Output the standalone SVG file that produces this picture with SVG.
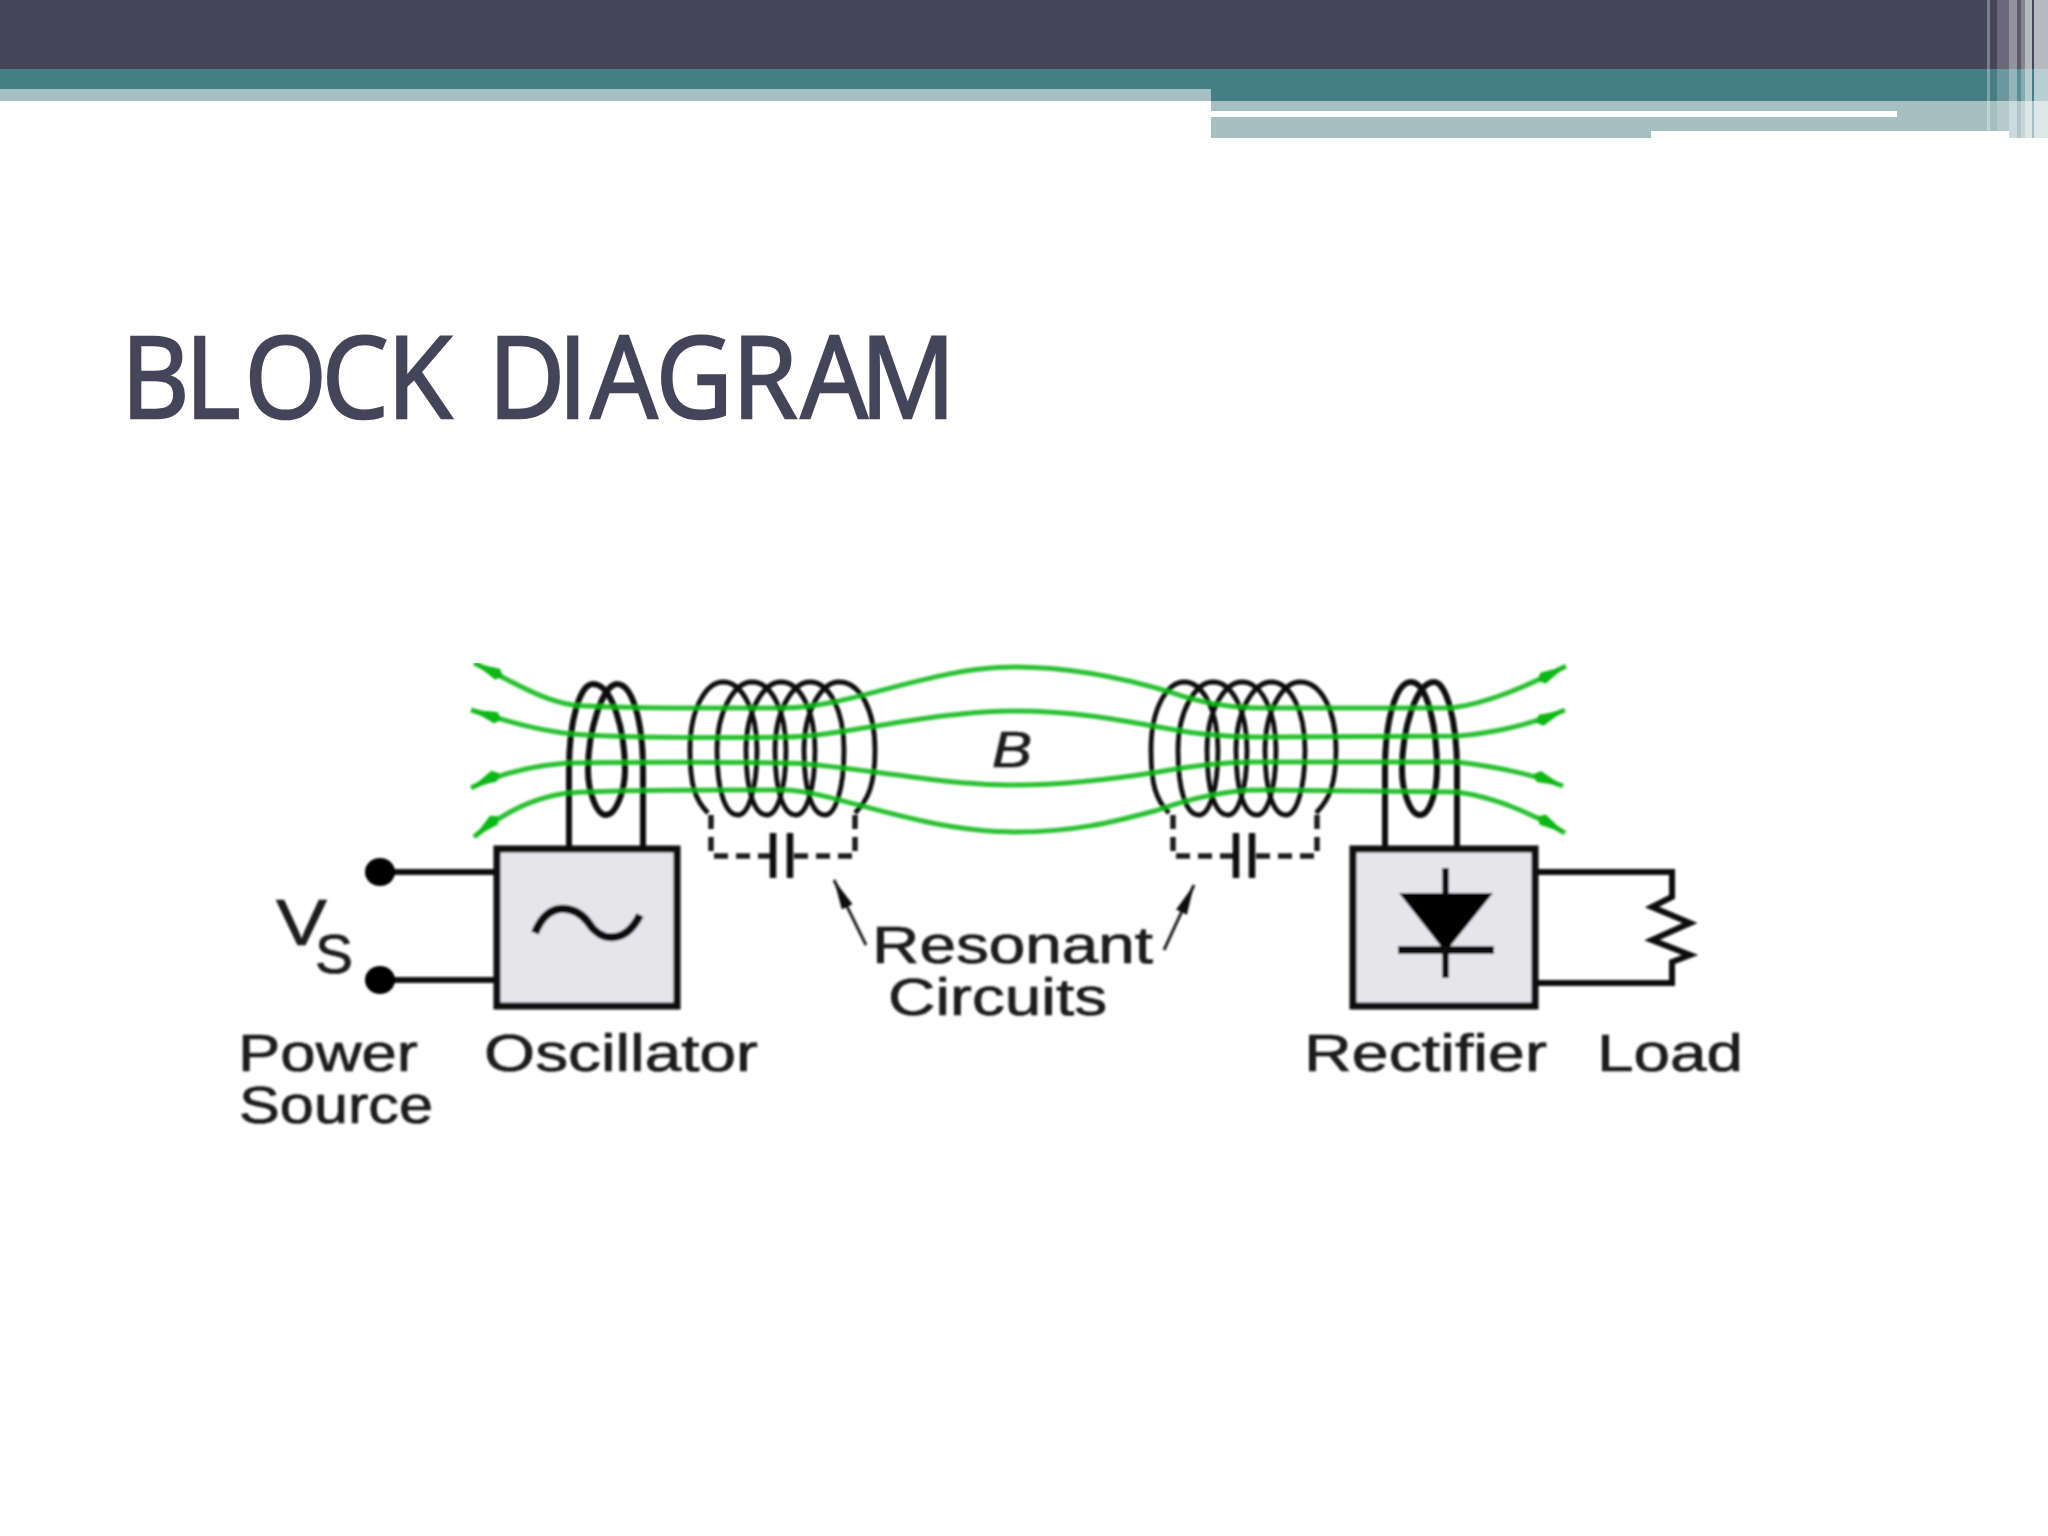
<svg xmlns="http://www.w3.org/2000/svg" width="2048" height="1536" viewBox="0 0 2048 1536">
<style>
.lbl{font-family:"Liberation Sans",Arial,sans-serif;fill:#1a1a1a;stroke:#1a1a1a;stroke-width:.7}
.wire{fill:none;stroke:#0a0a0a;stroke-width:6}
.thick{fill:none;stroke:#0a0a0a;stroke-width:6.500}
.thin{fill:none;stroke:#0a0a0a;stroke-width:4.800}
.dash{fill:none;stroke:#1a1a1a;stroke-width:5.500;stroke-dasharray:14 8}
.box{fill:#e6e5ea;stroke:#0a0a0a;stroke-width:7}
.field{fill:none;stroke:#10b818;stroke-width:5;stroke-opacity:.88;marker-start:url(#fa);marker-end:url(#fa)}
.st{fill:#fff}
</style>
<defs>
<marker id="fa" markerUnits="userSpaceOnUse" markerWidth="40" markerHeight="26" refX="34" refY="13" orient="auto-start-reverse"><path d="M2 13 L8 7 L34 13 L8 19 Z" fill="#10b818"/></marker>
<marker id="ba" markerUnits="userSpaceOnUse" markerWidth="34" markerHeight="20" refX="30" refY="10" orient="auto"><path d="M0 4 L30 10 L0 16 Z" fill="#111"/></marker>
<filter id="soft" x="0" y="0" width="1" height="1" filterUnits="objectBoundingBox"><feGaussianBlur stdDeviation="0.9"/></filter>
<path id="coil" class="thin" d="M708 813C695 800 690 785 690 750C690 705 708 682 723 682C742 682 757 710 757 750C757 790 748 815 738 815C725 815 717 790 717 750C717 710 735 682 752 682C771 682 786 710 786 750C786 790 777 815 767 815C754 815 746 790 746 750C746 710 764 682 781 682C800 682 815 710 815 750C815 790 806 815 796 815C783 815 775 790 775 750C775 710 793 682 810 682C829 682 844 710 844 750C844 790 835 815 825 815C812 815 804 790 804 750C804 710 822 682 839 682C860 682 875 710 875 750C875 785 868 800 855 813"/>
</defs>
<rect width="2048" height="1536" fill="#fff"/>
<g id="header">
<rect width="2048" height="69" fill="#464458"/>
<rect y="69" width="2048" height="32" fill="#467e86"/>
<rect y="89" width="1211" height="12" fill="#a5bfc2"/>
<rect x="1211" y="101" width="837" height="37" fill="#a5bfc2"/>
<rect x="1211" y="111" width="686" height="6" class="st"/>
<rect x="1651" y="131" width="358" height="7" class="st"/>
<rect x="1987" width="3" height="131" class="st" opacity=".3"/>
<rect x="1997" width="12" height="131" class="st" opacity=".2"/>
<rect x="2009" width="8" height="138" class="st" opacity=".42"/>
<rect x="2017" width="4" height="138" class="st" opacity=".12"/>
<rect x="2021" width="4" height="138" class="st" opacity=".35"/>
<rect x="2025" width="7" height="138" class="st" opacity=".62"/>
<rect x="2034" width="14" height="138" class="st" opacity=".62"/>
</g>
<text id="title" transform="scale(.93 1)" x="130 199 263 346 416 516 525 600 635 705 787 861 925" y="418" font-family="'Open Sans','Liberation Sans',sans-serif" font-size="114" fill="#454459" stroke="#454459" stroke-width="2.500">BLOCK DIAGRAM</text>
<g id="diagram" filter="url(#soft)">
<g id="coils">
<path class="wire" d="M569 848L569 770C569 720 580 684 593 684C612 684 625 730 625 770C625 790 616 815 606 815C596 815 588 790 588 770C588 730 603 684 617 684C632 684 643 720 643 770L643 848"/>
<use href="#coil"/>
<path class="dash" d="M711 815L711 856L773 856"/>
<path class="dash" d="M855 815L855 856L790 856"/>
<path class="thick" d="M773 833V878M790 833V878"/>
<use href="#coil" x="461"/>
<path class="dash" d="M1173 815L1173 856L1236 856"/>
<path class="dash" d="M1317 815L1317 856L1252 856"/>
<path class="thick" d="M1236 833V878M1252 833V878"/>
<path class="wire" d="M1385 848L1385 770C1385 720 1396 682 1411 682C1428 682 1437 730 1437 770C1437 790 1430 815 1420 815C1410 815 1402 790 1402 770C1402 730 1416 682 1434 682C1446 682 1457 720 1457 770L1457 848"/>
</g>
<g id="connectors">
<path class="field" d="M474 663C510 680 540 700 573 705C610 709 740 708 784 708C850 708 930 667 1015 667C1080 667 1140 683 1170 692C1200 703 1230 708 1262 708L1451 708C1490 703 1530 685 1566 666"/>
<path class="field" d="M471 710C510 722 540 731 573 734C620 738 740 738 784 737C840 737 930 711 1015 711C1080 711 1130 722 1170 729C1200 735 1230 737 1262 737L1457 736C1495 733 1530 725 1565 710"/>
<path class="field" d="M471 788C500 773 530 766 567 763C620 762 740 762 784 763C840 763 930 785 1015 785C1070 785 1120 778 1158 772C1195 765 1230 762 1262 762L1457 762C1490 766 1530 773 1563 786"/>
<path class="field" d="M474 837C500 815 530 798 567 793C620 789 740 790 784 790C830 790 920 832 1015 832C1080 832 1120 820 1158 810C1195 797 1230 790 1262 790L1457 792C1500 798 1535 815 1565 833"/>
<path class="wire" d="M385 872H495M385 980H495"/>
<path class="wire" d="M1536 872H1672V897L1652 907L1690 923L1652 940L1690 955L1672 962V983H1536"/>
<path fill="none" stroke="#222" stroke-width="3" marker-end="url(#ba)" d="M866 945L834 880"/>
<path fill="none" stroke="#222" stroke-width="3" marker-end="url(#ba)" d="M1164 950L1194 885"/>
</g>
<g id="power-source">
<ellipse cx="380" cy="872" rx="15" ry="14" fill="#000"/>
<ellipse cx="380" cy="980" rx="15" ry="14" fill="#000"/>
<text class="lbl" x="276" y="945" font-size="65" textLength="51" lengthAdjust="spacingAndGlyphs">V</text>
<text class="lbl" x="315" y="973" font-size="56" textLength="38" lengthAdjust="spacingAndGlyphs">S</text>
<text class="lbl" x="238" y="1071" font-size="51" textLength="180" lengthAdjust="spacingAndGlyphs">Power</text>
<text class="lbl" x="239" y="1123" font-size="51" textLength="194" lengthAdjust="spacingAndGlyphs">Source</text>
</g>
<g id="oscillator">
<rect class="box" x="497" y="849" width="180" height="157"/>
<path d="M535 933C548 900 575 905 588 922C600 942 625 945 640 915" fill="none" stroke="#0a0a0a" stroke-width="8"/>
<text class="lbl" x="484" y="1071" font-size="51" textLength="274" lengthAdjust="spacingAndGlyphs">Oscillator</text>
</g>
<g id="resonant-label">
<text class="lbl" x="872" y="963" font-size="51" textLength="281" lengthAdjust="spacingAndGlyphs">Resonant</text>
<text class="lbl" x="888" y="1015" font-size="51" textLength="219" lengthAdjust="spacingAndGlyphs">Circuits</text>
</g>
<g id="field-label">
<text class="lbl" x="992" y="767" font-size="50" font-style="italic" textLength="40" lengthAdjust="spacingAndGlyphs">B</text>
</g>
<g id="rectifier">
<rect class="box" x="1353" y="849" width="182" height="157"/>
<path d="M1445.500 868V978" stroke="#0a0a0a" stroke-width="6.500"/>
<path d="M1399 893H1493L1445.500 952Z" fill="#000"/>
<path d="M1398 950H1494" stroke="#0a0a0a" stroke-width="8"/>
<text class="lbl" x="1304" y="1071" font-size="51" textLength="243" lengthAdjust="spacingAndGlyphs">Rectifier</text>
</g>
<g id="load">
<text class="lbl" x="1597" y="1071" font-size="51" textLength="146" lengthAdjust="spacingAndGlyphs">Load</text>
</g>
</g>
</svg>
